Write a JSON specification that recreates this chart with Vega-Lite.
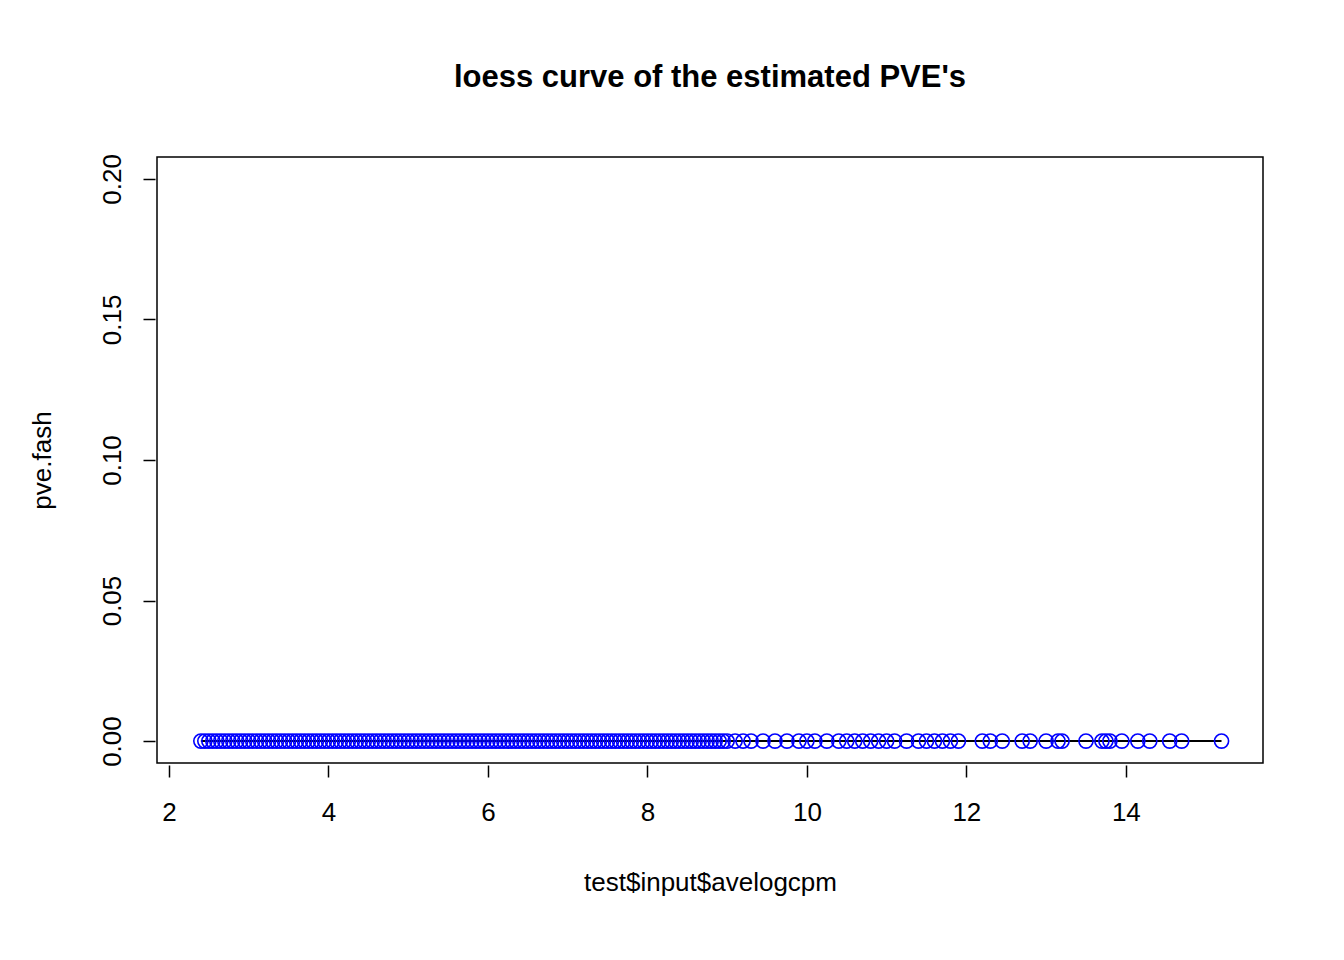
{
  "$schema": "https://vega.github.io/schema/vega-lite/v6.json",
  "width": 1106,
  "height": 606,
  "autosize": "none",
  "padding": {"left": 157, "top": 157, "right": 81, "bottom": 197},
  "background": "white",
  "title": {"text": "loess curve of the estimated PVE's", "font": "Liberation Sans", "fontSize": 31, "fontWeight": "bold", "color": "black", "offset": 60},
  "config": {
    "view": {"stroke": "black", "strokeWidth": 1.5},
    "axis": {"grid": false, "domain": false, "ticks": true, "tickColor": "black", "tickSize": 12, "tickWidth": 1.5, "labelFont": "Liberation Sans", "labelFontSize": 26, "labelColor": "black", "titleFont": "Liberation Sans", "titleFontSize": 26, "titleFontWeight": "normal", "titleColor": "black", "offset": 2}
  },
  "layer": [
    {
      "data": {"values": [{"x": 2.4, "y": 0}, {"x": 15.2, "y": 0}]},
      "mark": {"type": "line", "color": "black", "strokeWidth": 2},
      "encoding": {
        "x": {"field": "x", "type": "quantitative", "scale": {"domain": [1.85, 15.72], "nice": false, "zero": false},
          "axis": {"values": [2, 4, 6, 8, 10, 12, 14], "format": "d", "title": "test$input$avelogcpm", "labelPadding": 22, "titlePadding": 44}},
        "y": {"field": "y", "type": "quantitative", "scale": {"domain": [-0.0078, 0.2078], "nice": false, "zero": false},
          "axis": {"values": [0, 0.05, 0.1, 0.15, 0.2], "format": ".2f", "labelAngle": -90, "labelAlign": "center", "labelBaseline": "bottom", "labelPadding": 18, "title": "pve.fash", "titlePadding": 44}}
      }
    },
    {
      "data": {"values": [
        {"x":2.4,"y":0},{"x":2.45,"y":0},{"x":2.5,"y":0},{"x":2.55,"y":0},{"x":2.6,"y":0},{"x":2.65,"y":0},{"x":2.7,"y":0},{"x":2.75,"y":0},{"x":2.8,"y":0},{"x":2.85,"y":0},
        {"x":2.9,"y":0},{"x":2.95,"y":0},{"x":3.0,"y":0},{"x":3.05,"y":0},{"x":3.1,"y":0},{"x":3.15,"y":0},{"x":3.2,"y":0},{"x":3.25,"y":0},{"x":3.3,"y":0},{"x":3.35,"y":0},
        {"x":3.4,"y":0},{"x":3.45,"y":0},{"x":3.5,"y":0},{"x":3.55,"y":0},{"x":3.6,"y":0},{"x":3.65,"y":0},{"x":3.7,"y":0},{"x":3.75,"y":0},{"x":3.8,"y":0},{"x":3.85,"y":0},
        {"x":3.9,"y":0},{"x":3.95,"y":0},{"x":4.0,"y":0},{"x":4.05,"y":0},{"x":4.1,"y":0},{"x":4.15,"y":0},{"x":4.2,"y":0},{"x":4.25,"y":0},{"x":4.3,"y":0},{"x":4.35,"y":0},
        {"x":4.4,"y":0},{"x":4.45,"y":0},{"x":4.5,"y":0},{"x":4.55,"y":0},{"x":4.6,"y":0},{"x":4.65,"y":0},{"x":4.7,"y":0},{"x":4.75,"y":0},{"x":4.8,"y":0},{"x":4.85,"y":0},
        {"x":4.9,"y":0},{"x":4.95,"y":0},{"x":5.0,"y":0},{"x":5.05,"y":0},{"x":5.1,"y":0},{"x":5.15,"y":0},{"x":5.2,"y":0},{"x":5.25,"y":0},{"x":5.3,"y":0},{"x":5.35,"y":0},
        {"x":5.4,"y":0},{"x":5.45,"y":0},{"x":5.5,"y":0},{"x":5.55,"y":0},{"x":5.6,"y":0},{"x":5.65,"y":0},{"x":5.7,"y":0},{"x":5.75,"y":0},{"x":5.8,"y":0},{"x":5.85,"y":0},
        {"x":5.9,"y":0},{"x":5.95,"y":0},{"x":6.0,"y":0},{"x":6.05,"y":0},{"x":6.1,"y":0},{"x":6.15,"y":0},{"x":6.2,"y":0},{"x":6.25,"y":0},{"x":6.3,"y":0},{"x":6.35,"y":0},
        {"x":6.4,"y":0},{"x":6.45,"y":0},{"x":6.5,"y":0},{"x":6.55,"y":0},{"x":6.6,"y":0},{"x":6.65,"y":0},{"x":6.7,"y":0},{"x":6.75,"y":0},{"x":6.8,"y":0},{"x":6.85,"y":0},
        {"x":6.9,"y":0},{"x":6.95,"y":0},{"x":7.0,"y":0},{"x":7.05,"y":0},{"x":7.1,"y":0},{"x":7.15,"y":0},{"x":7.2,"y":0},{"x":7.25,"y":0},{"x":7.3,"y":0},{"x":7.35,"y":0},
        {"x":7.4,"y":0},{"x":7.45,"y":0},{"x":7.5,"y":0},{"x":7.55,"y":0},{"x":7.6,"y":0},{"x":7.65,"y":0},{"x":7.7,"y":0},{"x":7.75,"y":0},{"x":7.8,"y":0},{"x":7.85,"y":0},
        {"x":7.9,"y":0},{"x":7.95,"y":0},{"x":8.0,"y":0},{"x":8.05,"y":0},{"x":8.1,"y":0},{"x":8.15,"y":0},{"x":8.2,"y":0},{"x":8.25,"y":0},{"x":8.3,"y":0},{"x":8.35,"y":0},
        {"x":8.4,"y":0},{"x":8.45,"y":0},{"x":8.5,"y":0},{"x":8.55,"y":0},{"x":8.6,"y":0},{"x":8.65,"y":0},{"x":8.7,"y":0},{"x":8.75,"y":0},{"x":8.8,"y":0},{"x":8.85,"y":0},
        {"x":8.9,"y":0},{"x":8.95,"y":0},{"x":9.0,"y":0},
        {"x":9.1,"y":0},{"x":9.2,"y":0},{"x":9.3,"y":0},{"x":9.45,"y":0},{"x":9.6,"y":0},{"x":9.75,"y":0},{"x":9.9,"y":0},{"x":10.0,"y":0},{"x":10.1,"y":0},{"x":10.25,"y":0},
        {"x":10.4,"y":0},{"x":10.5,"y":0},{"x":10.6,"y":0},{"x":10.7,"y":0},{"x":10.8,"y":0},{"x":10.9,"y":0},{"x":11.0,"y":0},{"x":11.1,"y":0},{"x":11.25,"y":0},{"x":11.4,"y":0},
        {"x":11.5,"y":0},{"x":11.6,"y":0},{"x":11.7,"y":0},{"x":11.8,"y":0},{"x":11.9,"y":0},{"x":12.2,"y":0},{"x":12.3,"y":0},{"x":12.45,"y":0},{"x":12.7,"y":0},{"x":12.8,"y":0},
        {"x":13.0,"y":0},{"x":13.15,"y":0},{"x":13.2,"y":0},{"x":13.5,"y":0},{"x":13.7,"y":0},{"x":13.75,"y":0},{"x":13.8,"y":0},{"x":13.95,"y":0},{"x":14.15,"y":0},{"x":14.3,"y":0},
        {"x":14.55,"y":0},{"x":14.7,"y":0},{"x":15.2,"y":0}
      ]},
      "mark": {"type": "point", "shape": "circle", "filled": false, "color": "blue", "size": 200, "strokeWidth": 1.6, "opacity": 1},
      "encoding": {
        "x": {"field": "x", "type": "quantitative"},
        "y": {"field": "y", "type": "quantitative"}
      }
    }
  ]
}
